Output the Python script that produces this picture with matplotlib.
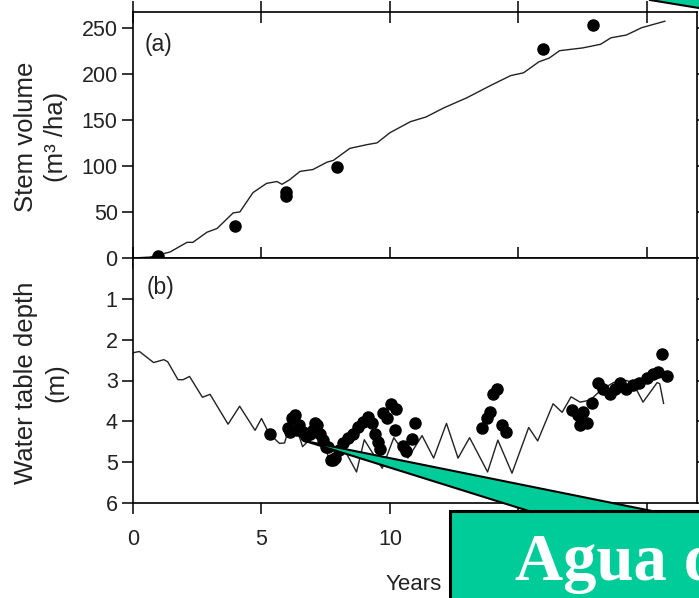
import matplotlib
matplotlib.use("Agg")
import matplotlib.pyplot as plt
from matplotlib.patches import Polygon, Rectangle

plt.rcParams['font.family'] = ['Liberation Sans', 'DejaVu Sans']

# panel (a): stem volume, model line and measured points
years_a = [0, 0.66, 1.44, 2.1, 2.33, 2.88, 3.27, 3.9, 4.16, 4.67, 5.2, 5.6, 5.8, 6.1, 6.5, 7.0,
           7.55, 7.8, 8.44, 9.1, 9.5, 10.0, 10.8, 11.4, 12.1, 13.0, 13.9, 14.7, 15.2, 15.8,
           16.2, 16.6, 17.5, 18.2, 18.6, 19.2, 19.8, 20.7]
vol_model = [0, 1, 6.5, 17, 17, 28, 32, 49, 50, 71, 81, 83, 80, 85, 94, 96,
             104, 106, 119, 123, 125, 136, 148, 153, 163, 174, 187, 198, 201, 213,
             217, 225, 228, 232, 239, 242, 250, 257]
obs_years_a = [0.98, 3.97, 5.95, 5.95, 7.95, 15.95, 17.9]
obs_vol = [2, 35, 67, 72, 99, 227, 253]

# panel (b): water table depth, model line and measured points
years_b = [0, 0.25, 0.8, 1.2, 1.35, 1.75, 1.95, 2.2, 2.7, 3.0, 3.7, 4.15, 4.75, 5.0, 5.3,
           5.7, 5.9, 6.2, 6.6, 6.95, 7.2, 7.65, 8.1, 8.7, 9.0, 9.7, 10.15, 10.7, 11.25,
           11.7, 12.2, 12.65, 13.1, 13.8, 14.2, 14.75, 15.4, 15.75, 16.35, 16.7, 17.05,
           17.4, 17.8, 18.2, 18.7, 19.2, 19.45, 19.85, 20.4, 20.5, 20.65]
depth_model = [2.32, 2.29, 2.56, 2.49, 2.54, 2.98, 2.98, 2.9, 3.41, 3.34, 4.07, 3.63, 4.22,
               3.93, 4.3, 4.54, 4.53, 3.85, 4.62, 4.4, 4.15, 4.95, 4.55, 5.24, 4.45, 5.15,
               4.4, 4.9, 4.35, 4.9, 4.05, 4.9, 4.4, 5.24, 4.46, 5.27, 4.15, 4.48, 3.57,
               3.78, 3.4, 3.53, 3.48, 3.24, 3.05, 3.0, 3.05, 3.53, 3.05, 3.08, 3.56]
obs_years_b = [5.33, 6.03, 6.1, 6.2, 6.3, 6.38, 6.45, 6.6, 6.75, 6.9, 7.0, 7.1, 7.15, 7.28,
               7.4, 7.5, 7.6, 7.7, 7.78, 7.86, 8.0, 8.17, 8.37, 8.56, 8.75, 8.95, 9.15,
               9.3, 9.42, 9.53, 9.61, 9.73, 9.87, 10.05, 10.25, 10.2, 10.5, 10.62, 10.85,
               10.97, 13.58, 13.77, 13.9, 14.0, 14.15, 14.35, 14.5, 17.1, 17.3, 17.4, 17.5,
               17.65, 17.85, 18.1, 18.3, 18.55, 18.75, 18.95, 19.2, 19.45, 19.7, 20.0,
               20.25, 20.45, 20.8, 20.6]
obs_depth = [4.3, 4.17, 4.25, 3.93, 3.85, 4.22, 4.1, 4.27, 4.35, 4.3, 4.2, 4.05, 4.1, 4.3,
             4.46, 4.63, 4.63, 4.95, 4.95, 4.9, 4.7, 4.54, 4.42, 4.3, 4.15, 4.02, 3.9,
             4.05, 4.3, 4.5, 4.67, 3.8, 3.93, 3.57, 3.71, 4.22, 4.6, 4.72, 4.44, 4.03,
             4.17, 3.93, 3.78, 3.32, 3.2, 4.1, 4.27, 3.73, 3.85, 4.1, 3.78, 4.05, 3.54,
             3.05, 3.2, 3.32, 3.2, 3.05, 3.2, 3.12, 3.05, 2.93, 2.83, 2.8, 2.88, 2.34]

xticks = [0, 5, 10, 15, 20]
# 15 and 20 sit under the callout box in the source
xticklabels = ['0', '5', '10', '', '']
W, H = 699, 598

fig = plt.figure(figsize=(W / 100, H / 100), dpi=100)
ax1 = fig.add_axes([133 / W, 1 - 258 / H, 564 / W, 246 / H])
ax2 = fig.add_axes([133 / W, 1 - 503 / H, 564 / W, 245 / H])

txt = '#222222'
for ax in (ax1, ax2):
    ax.set_xlim(0, 21.95)
    ax.set_xticks(xticks)
    for s in ax.spines.values():
        s.set_linewidth(1.2)
    ax.tick_params(axis='y', which='both', direction='out', length=8, width=1.1,
                   labelsize=15.5, pad=3, right=True, labelcolor=txt)

ax1.plot(years_a, vol_model, color='#222222', lw=1.0)
ax1.plot(obs_years_a, obs_vol, 'o', color='black', ms=8)
ax1.set_ylim(0, 267)
ax1.set_yticks([0, 50, 100, 150, 200, 250])
ax1.tick_params(axis='x', top=True, bottom=True, labelbottom=False, direction='inout',
                length=16, width=1.1)
ax1.text(0.021, 0.866, '(a)', transform=ax1.transAxes, fontsize=16.5, color=txt, va='center')

ax2.plot(years_b, depth_model, color='#222222', lw=1.0)
ax2.plot(obs_years_b, obs_depth, 'o', color='black', ms=8)
ax2.set_ylim(6, 0)
ax2.set_yticks([1, 2, 3, 4, 5, 6])
ax2.set_xticklabels(xticklabels)
ax2.tick_params(axis='x', direction='out', length=8, width=1.1, labelsize=15.5, pad=11,
                labelcolor=txt)
ax2.text(0.025, 0.88, '(b)', transform=ax2.transAxes, fontsize=16.5, color=txt, va='center')

fig.text(26 / W, 1 - 137 / H, 'Stem volume', rotation=90, ha='center', va='center',
         fontsize=18.5, color=txt)
fig.text(56 / W, 1 - 137 / H, '(m³ /ha)', rotation=90, ha='center', va='center',
         fontsize=18.5, color=txt)
fig.text(26 / W, 1 - 383 / H, 'Water table depth', rotation=90, ha='center', va='center',
         fontsize=18.5, color=txt)
fig.text(56 / W, 1 - 383 / H, '(m)', rotation=90, ha='center', va='center',
         fontsize=18.5, color=txt)
fig.text(414 / W, 1 - 585 / H, 'Years', ha='center', va='center', fontsize=16, color=txt)

# callout overlay in pixel coordinates
ov = fig.add_axes([0, 0, 1, 1], zorder=10)
ov.set_xlim(0, W)
ov.set_ylim(H, 0)
ov.axis('off')
ov.patch.set_alpha(0)
green = '#00CC99'
ov.add_patch(Polygon([(650, 0), (705, 9), (705, -5), (650, -5)], closed=True,
                     facecolor=green, edgecolor='none'))
ov.plot([650, 705], [0, 9], color='black', lw=1.5)
ov.add_patch(Polygon([(305, 441), (532, 512), (657, 512)], closed=True,
                     facecolor=green, edgecolor='none'))
ov.plot([532, 305, 657], [512, 441, 512], color='black', lw=1.5)
ov.add_patch(Rectangle((450, 511), 300, 120, facecolor=green, edgecolor='black', lw=2.2))
ov.text(515, 580, 'Agua d', color='white', fontsize=48, fontweight='bold',
        family=['Liberation Serif', 'DejaVu Serif'], va='baseline', ha='left')

fig.savefig('out.png', dpi=100)
